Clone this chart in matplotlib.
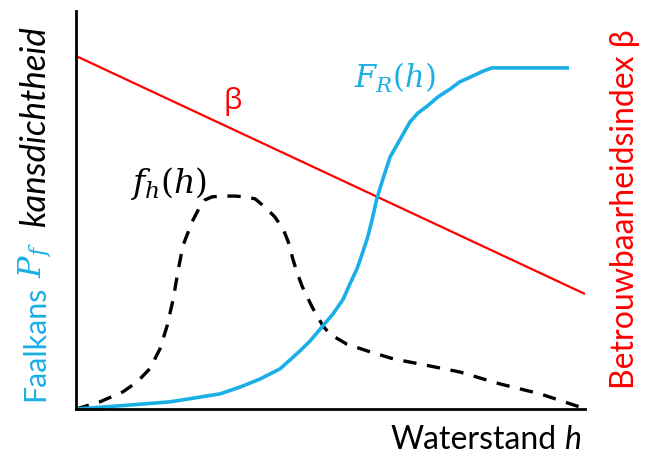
import matplotlib
matplotlib.use("Agg")
import matplotlib.pyplot as plt

plt.rcParams['mathtext.fontset'] = 'dejavuserif'
plt.rcParams['font.family'] = ['Lato', 'Open Sans', 'DejaVu Sans']

# Fragility curve F_R(h)
fr_h = [0.00, 0.86, 1.85, 2.83, 3.22, 3.61, 4.01, 4.40, 4.60, 4.85, 5.05, 5.25, 5.38, 5.52, 5.62, 5.72, 5.82, 5.91, 6.03,
        6.17, 6.37, 6.56, 6.72, 6.90, 7.11, 7.35, 7.54, 7.80, 8.00, 8.17, 9.65]
fr_v = [0.000, 0.008, 0.018, 0.038, 0.055, 0.075, 0.101, 0.146, 0.171, 0.209, 0.239, 0.276, 0.314, 0.352, 0.389, 0.427, 0.477, 0.528, 0.578,
        0.633, 0.678, 0.721, 0.744, 0.761, 0.784, 0.804, 0.822, 0.837, 0.849, 0.857, 0.857]

# Probability density f_h(h)
fh_h = [0.00, 0.47, 0.92, 1.20, 1.45, 1.65, 1.79, 1.91, 2.00, 2.10, 2.28, 2.44, 2.53, 2.67, 2.87, 3.12, 3.32, 3.52, 3.75, 3.91,
        4.07, 4.17, 4.26, 4.34, 4.44, 4.64, 4.85, 4.99, 5.32, 5.72, 6.23, 6.76, 7.54, 8.33, 9.12, 9.90]
fh_v = [0.000, 0.018, 0.043, 0.068, 0.101, 0.151, 0.209, 0.276, 0.344, 0.410, 0.470, 0.510, 0.525, 0.533, 0.535, 0.535, 0.533, 0.528, 0.503, 0.482,
        0.452, 0.420, 0.377, 0.344, 0.309, 0.256, 0.209, 0.188, 0.163, 0.146, 0.126, 0.113, 0.093, 0.063, 0.038, 0.005]

# Reliability index beta (linear)
beta_h = [0.0, 10.0]
beta_v = [0.887, 0.289]

BLUE = '#1AAFE6'
RED = '#FF0000'

fig = plt.figure(figsize=(6.47, 4.64), dpi=100)
ax = fig.add_axes([76/647, 1 - 410/464, (585-76)/647, (410-12)/464])
ax.set_xlim(0, 10)
ax.set_ylim(0, 1)
for s in ['top', 'right']:
    ax.spines[s].set_visible(False)
for s in ['left', 'bottom']:
    ax.spines[s].set_linewidth(2.0)
    ax.spines[s].set_color('black')
ax.set_xticks([])
ax.set_yticks([])

ax.plot(beta_h, beta_v, color=RED, lw=1.6, solid_capstyle='butt')
ax.plot(fh_h, fh_v, color='black', lw=2.4, dashes=(4.0, 3.2))
ax.plot(fr_h, fr_v, color=BLUE, lw=2.6, solid_joinstyle='round')

ax.text(3.08, 0.774, 'β', color=RED, fontsize=21, ha='center', va='center', family=['Open Sans', 'DejaVu Sans'])
ax.text(6.27, 0.834, r'$F_R(h)$', color=BLUE, fontsize=22, ha='center', va='center')
ax.text(1.82, 0.570, r'$f_h(h)$', color='black', fontsize=24, ha='center', va='center')

# x label
fig.text(557/647, 1 - 440/464, 'Waterstand', fontsize=23, ha='right', va='center')
fig.text(581/647, 1 - 440/464, 'h', fontsize=23, ha='right', va='center', style='italic')

# right label
fig.text(625/647, 1 - 209/464, 'Betrouwbaarheidsindex β', fontsize=23, color=RED,
         rotation=90, ha='center', va='center')

# left label composed of pieces
xl = 35/647
fig.text(xl, 1 - 343/464, 'Faalkans', fontsize=22, color=BLUE, rotation=90, ha='center', va='center')
fig.text(xl, 1 - 260/464, r'$P_f$', fontsize=23, color=BLUE, rotation=90, ha='center', va='center')
fig.text(xl, 1 - 127/464, 'kansdichtheid', fontsize=25, color='black', rotation=90, ha='center', va='center', style='italic')

fig.savefig('out.png', dpi=100)
